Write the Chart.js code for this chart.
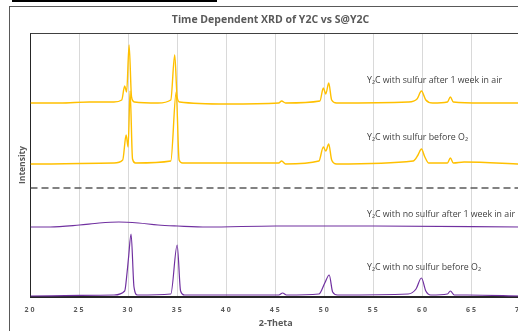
<!DOCTYPE html>
<html>
<head>
<meta charset="utf-8">
<script src="https://cdn.jsdelivr.net/npm/chart.js@4.4.1/dist/chart.umd.min.js"></script>
<style>
  html, body { margin: 0; padding: 0; background: #fff; overflow: hidden; }
  #wrap { position: relative; width: 518px; height: 331px; overflow: hidden; }
  #bar { position: absolute; left: 12px; top: 0; width: 205px; height: 2px; background: #000; }
  #frame { position: absolute; left: 9px; top: 6px; width: 600px; height: 400px; border-left: 1px solid #595959; border-top: 1px solid #595959; }
  #xrdChart { position: absolute; left: 0; top: 0; }
</style>
</head>
<body>
<div id="wrap">
  <div id="bar"></div>
  <div id="frame"></div>
  <canvas id="xrdChart" width="560" height="331"></canvas>
</div>
<script>
// 2-theta ticks
const xTicks = [20, 25, 30, 35, 40, 45, 50, 55, 60, 65, 70];

// Y2C with sulfur after 1 week in air (offset trace)
const sAirTheta = [20, 23, 26, 28.5, 29.3, 29.6, 29.8, 30.05, 30.3, 30.6, 33, 34.3, 34.7, 34.95, 35.2, 40, 45.3, 45.6, 46, 49.5, 49.85, 50.1, 50.4, 50.7, 51.2, 58.5, 59.4, 59.85, 60.3, 61, 62.5, 62.8, 63.1, 66, 70];
const sAirInt   = [194, 194, 195, 195, 197, 211, 205, 252, 200, 195, 194, 197, 242, 200, 195, 193, 194, 196, 194, 196, 209, 203, 214, 197, 194, 195, 198, 206, 197, 194, 195, 200, 195, 194, 194];

// Y2C with sulfur before O2
const sFreshTheta = [20, 28.5, 29.4, 29.75, 29.95, 30.15, 30.4, 30.7, 34.3, 34.85, 35.15, 35.5, 40.5, 45.3, 45.6, 46, 49.4, 49.85, 50.1, 50.4, 50.7, 51.2, 59, 59.5, 59.85, 60.2, 60.6, 62.5, 62.8, 63.1, 64.2, 70];
const sFreshInt   = [133, 134, 137, 162, 150, 206, 138, 134, 136, 205, 137, 134, 134, 134, 136, 133, 136, 150, 146, 153, 137, 133, 136, 142, 148, 140, 134, 134, 139, 134, 135, 133];

// separator between sulfur / no sulfur traces
const sepTheta = [20, 70];
const sepInt   = [109, 109];

// Y2C with no sulfur after 1 week in air
const nAirTheta = [20, 22, 25, 27, 29, 31, 33, 35, 38, 45, 55, 70];
const nAirInt   = [70, 70, 72, 74, 75, 74, 72, 71, 70, 71, 71, 70];

// Y2C with no sulfur before O2
const nFreshTheta = [20, 28.5, 29.6, 29.85, 30.0, 30.25, 30.55, 30.9, 34.3, 34.95, 35.3, 35.7, 45.3, 45.7, 46.1, 49.4, 50.0, 50.45, 50.8, 51.3, 58.5, 59.3, 59.85, 60.3, 60.8, 62.5, 62.8, 63.2, 64.5, 70];
const nFreshInt   = [1, 2, 6, 25, 40, 63, 10, 2, 3, 52, 6, 2, 2, 4, 2, 3, 14, 22, 5, 2, 3, 8, 19, 6, 2, 3, 6, 2, 2, 1];

const traceLabels = [
    'Y\u2082C with sulfur after 1 week in air',
    'Y\u2082C with sulfur before O\u2082',
    'Y\u2082C with no sulfur after 1 week in air',
    'Y\u2082C with no sulfur before O\u2082'
];

const pts = (xs, ys) => xs.map((x, i) => ({ x: x, y: ys[i] }));

const GOLD = '#FFC000';
const PURPLE = '#7030A0';

// text next to each trace, in data coords
const notePlugin = {
    id: 'notes',
    beforeDraw(chart) {
        const sx = chart.scales.x;
        if (!sx._spaced) {
            const orig = sx.drawLabels.bind(sx);
            sx.drawLabels = (area) => {
                const c = chart.ctx;
                c.save();
                c.letterSpacing = '2px';
                orig(area);
                c.restore();
            };
            sx._spaced = true;
        }
    },
    afterDatasetsDraw(chart) {
        const { ctx, scales: { x, y }, chartArea } = chart;
        // plot border top
        ctx.save();
        ctx.strokeStyle = '#404040';
        ctx.lineWidth = 1;
        ctx.beginPath();
        ctx.moveTo(chartArea.left, chartArea.top + 0.5);
        ctx.lineTo(chartArea.right, chartArea.top + 0.5);
        ctx.stroke();

        const spots = [217, 160, 83, 30];
        ctx.font = '8.8px "Open Sans"';
        ctx.fillStyle = '#404040';
        ctx.textBaseline = 'middle';
        traceLabels.forEach((t, i) => {
            ctx.fillText(t, x.getPixelForValue(54.3), y.getPixelForValue(spots[i]));
        });
        ctx.restore();
    }
};

new Chart(document.getElementById('xrdChart'), {
    type: 'line',
    data: {
        datasets: [
            { data: pts(sAirTheta, sAirInt), borderColor: GOLD, borderWidth: 1.4 },
            { data: pts(sFreshTheta, sFreshInt), borderColor: GOLD, borderWidth: 1.4 },
            { data: pts(sepTheta, sepInt), borderColor: '#595959', borderWidth: 1.5, borderDash: [7, 4] },
            { data: pts(nAirTheta, nAirInt), borderColor: PURPLE, borderWidth: 1.2 },
            { data: pts(nFreshTheta, nFreshInt), borderColor: PURPLE, borderWidth: 1.2 }
        ]
    },
    options: {
        responsive: false,
        animation: false,
        layout: { padding: { left: 20, right: 39, top: 0, bottom: 0 } },
        elements: {
            point: { radius: 0 },
            line: { cubicInterpolationMode: 'monotone' }
        },
        plugins: {
            legend: { display: false },
            tooltip: { enabled: false },
            title: {
                display: true,
                text: 'Time Dependent XRD of Y2C vs S@Y2C',
                color: '#595959',
                font: { family: '"Open Sans"', size: 10.5, weight: 'bold' },
                padding: { top: 13.7, bottom: 6.7 }
            }
        },
        scales: {
            x: {
                type: 'linear',
                min: 20,
                max: 70,
                afterFit: (s) => { s.height = 34; },
                afterBuildTicks: (s) => { s.ticks = xTicks.map(v => ({ value: v })); },
                ticks: {
                    color: '#595959',
                    font: { family: '"Open Sans"', size: 7, weight: 'bold' },
                    padding: 8.5,
                    maxRotation: 0
                },
                grid: { color: '#d9d9d9', drawTicks: false },
                border: { color: '#262626', width: 2 },
                title: {
                    display: true,
                    text: '2-Theta',
                    color: '#595959',
                    font: { family: '"Open Sans"', size: 9, weight: 'bold' },
                    padding: { top: 0, bottom: 2.6 }
                }
            },
            y: {
                min: 0,
                max: 264,
                afterFit: (s) => { s.width = 10.5; },
                ticks: { display: false },
                grid: { display: false, drawTicks: false },
                border: { color: '#262626', width: 1 },
                title: {
                    display: true,
                    text: 'Intensity',
                    color: '#595959',
                    font: { family: '"Open Sans"', size: 8.5, weight: 'bold' },
                    padding: { top: -2.5, bottom: 0 }
                }
            }
        }
    },
    plugins: [notePlugin]
});
</script>
</body>
</html>
